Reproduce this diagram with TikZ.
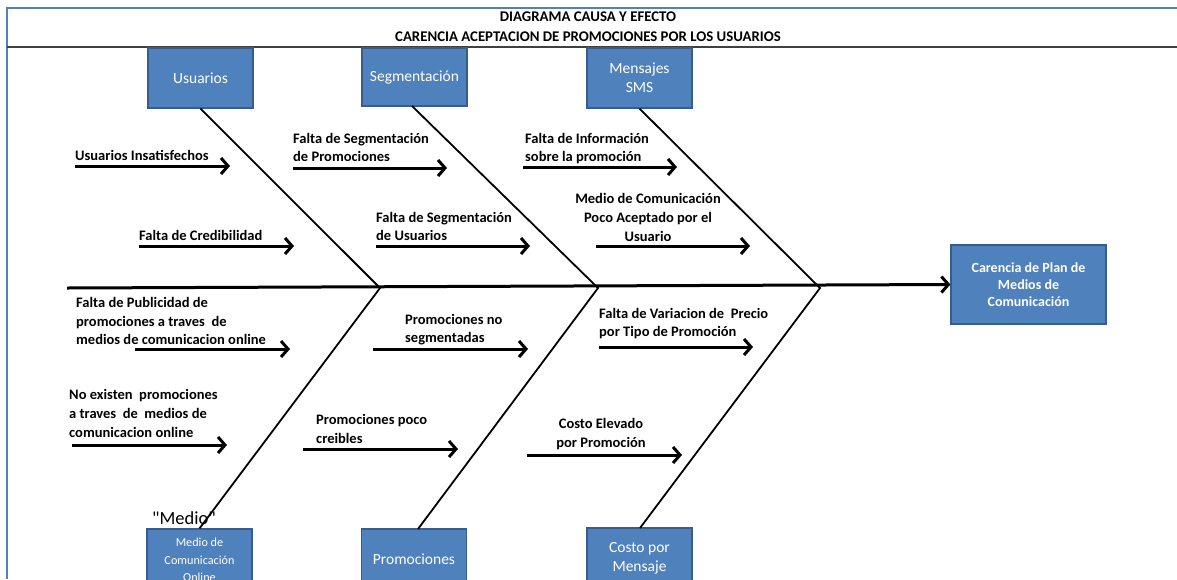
\documentclass[tikz,border=0pt]{standalone}
\usepackage{fontspec}
\setmainfont{Carlito}
\newfontfamily\rawcarlito{Carlito}
\usetikzlibrary{arrows.meta}
\definecolor{boxblue}{HTML}{4F81BD}
\definecolor{boxedge}{HTML}{385D8A}
\definecolor{framegray}{HTML}{404040}
\tikzset{
  catbox/.style={draw=boxedge, line width=1.2pt, fill=boxblue, text=white, minimum width=105pt, align=center, inner sep=2pt, font=\fontsize{15.5}{19}\selectfont},
  effbox/.style={draw=boxedge, line width=1.2pt, fill=boxblue, text=white, minimum width=155pt, minimum height=79pt, align=center, inner sep=2pt, font=\bfseries\fontsize{14}{17}\selectfont},
  causetext/.style={font=\bfseries\fontsize{14.5}{18.7}\selectfont, align=left, anchor=west, inner sep=0pt},
  causec/.style={font=\bfseries\fontsize{14.5}{18.7}\selectfont, align=center, inner sep=0pt},
  bone/.style={line width=1.8pt},
  sub/.style={line width=3pt, -{Straight Barb[length=7pt,width=16pt,line width=3pt]}},
  spine/.style={line width=3pt, -{Straight Barb[length=7pt,width=16pt,line width=3pt]}},
}
\begin{document}
\begin{tikzpicture}[x=1pt,y=-1pt]
\clip (0,0) rectangle (1177,579);
\useasboundingbox (0,0) rectangle (1177,579);
\fill[white] (0,0) rectangle (1177,579);
% frame
\draw[boxblue, line width=2.2pt] (7,579) -- (7,8) -- (1177,8);
\draw[framegray, line width=2pt] (7,47) -- (1177,47);
\node[font=\bfseries\fontsize{14.8}{16}\selectfont] (t1) at (588,17) {DIAGRAMA CAUSA Y EFECTO};
\node[font=\bfseries\fontsize{14.8}{16}\selectfont] (t2) at (588,37) {CARENCIA ACEPTACION DE PROMOCIONES POR LOS USUARIOS};
% category boxes
\node[catbox, minimum height=60pt] (usu) at (200.5,78) {Usuarios};
\node[catbox, minimum height=58pt] (seg) at (414.5,77) {Segmentación};
\node[catbox, minimum height=60pt] (sms) at (639.5,78) {Mensajes\\SMS};
\node[catbox, minimum height=62pt, font=\fontsize{12.2}{17.5}\selectfont] (med) at (199.5,560) {Medio de\\Comunicación\\Online};
\node[catbox, minimum height=60pt] (pro) at (414,559) {Promociones};
\node[catbox, minimum height=60pt] (cos) at (639.5,558) {Costo por\\Mensaje};
\node[effbox] (eff) at (1028.5,284.5) {Carencia de Plan de\\Medios de\\Comunicación};
% junctions
\coordinate (j1) at (380,288);
\coordinate (j2) at (598,288);
\coordinate (j3) at (820,288);
\coordinate (tail) at (67,288);
% spine
\draw[spine] (tail) -- (eff.west);
% bones
\draw[bone] (usu.south) -- (j1) -- (med.north);
\draw[bone] (412,106) -- (j2) -- (418,529);
\draw[bone] (sms.south) -- (j3) -- (640,528);
% cause labels
\node[causetext] (c1) at (75,155) {Usuarios Insatisfechos};
\node[causetext] (c2) at (139,235) {Falta de Credibilidad};
\node[causetext] (c3) at (293,147.5) {Falta de Segmentación\\de Promociones};
\node[causetext] (c4) at (376,226.5) {Falta de Segmentación\\de Usuarios};
\node[causetext] (c5) at (525,148.5) {Falta de Información\\sobre la promoción};
\node[causec] (c6) at (648,217.5) {Medio de Comunicación\\Poco Aceptado por el\\Usuario};
\node[causetext] (c7) at (76,321) {Falta de Publicidad de\\promociones a traves~ de\\medios de comunicacion online};
\node[causetext] (c8) at (405,329.5) {Promociones no\\segmentadas};
\node[causetext] (c9) at (599,323.5) {Falta de Variacion de~ Precio\\por Tipo de Promoción};
\node[causetext] (c10) at (69,413.5) {No existen~ promociones\\a traves~ de~ medios de\\comunicacion online};
\node[causetext] (c11) at (316,429) {Promociones poco\\creibles};
\node[causec] (c12) at (601,434) {Costo Elevado\\por Promoción};
\node[anchor=west, inner sep=0pt, font=\rawcarlito\fontsize{18.5}{20}\selectfont] (mq) at (152,518) {"Medio"};
% cause arrows
\coordinate (a1s) at (75,166);   \coordinate (a1e) at (230,166);
\coordinate (a2s) at (139,246);  \coordinate (a2e) at (294,246);
\coordinate (a3s) at (293,168);  \coordinate (a3e) at (447,168);
\coordinate (a4s) at (376,246);  \coordinate (a4e) at (530,246);
\coordinate (a5s) at (523,167);  \coordinate (a5e) at (677,167);
\coordinate (a6s) at (596,246);  \coordinate (a6e) at (750,246);
\coordinate (a7s) at (135,349);  \coordinate (a7e) at (290,349);
\coordinate (a8s) at (373,349);  \coordinate (a8e) at (528,349);
\coordinate (a9s) at (599,347);  \coordinate (a9e) at (753,347);
\coordinate (a10s) at (72,445);  \coordinate (a10e) at (227,445);
\coordinate (a11s) at (303,449); \coordinate (a11e) at (458,449);
\coordinate (a12s) at (527,455); \coordinate (a12e) at (682,455);
\foreach \i in {1,...,12} { \draw[sub] (a\i s) -- (a\i e); }
\end{tikzpicture}
\end{document}
